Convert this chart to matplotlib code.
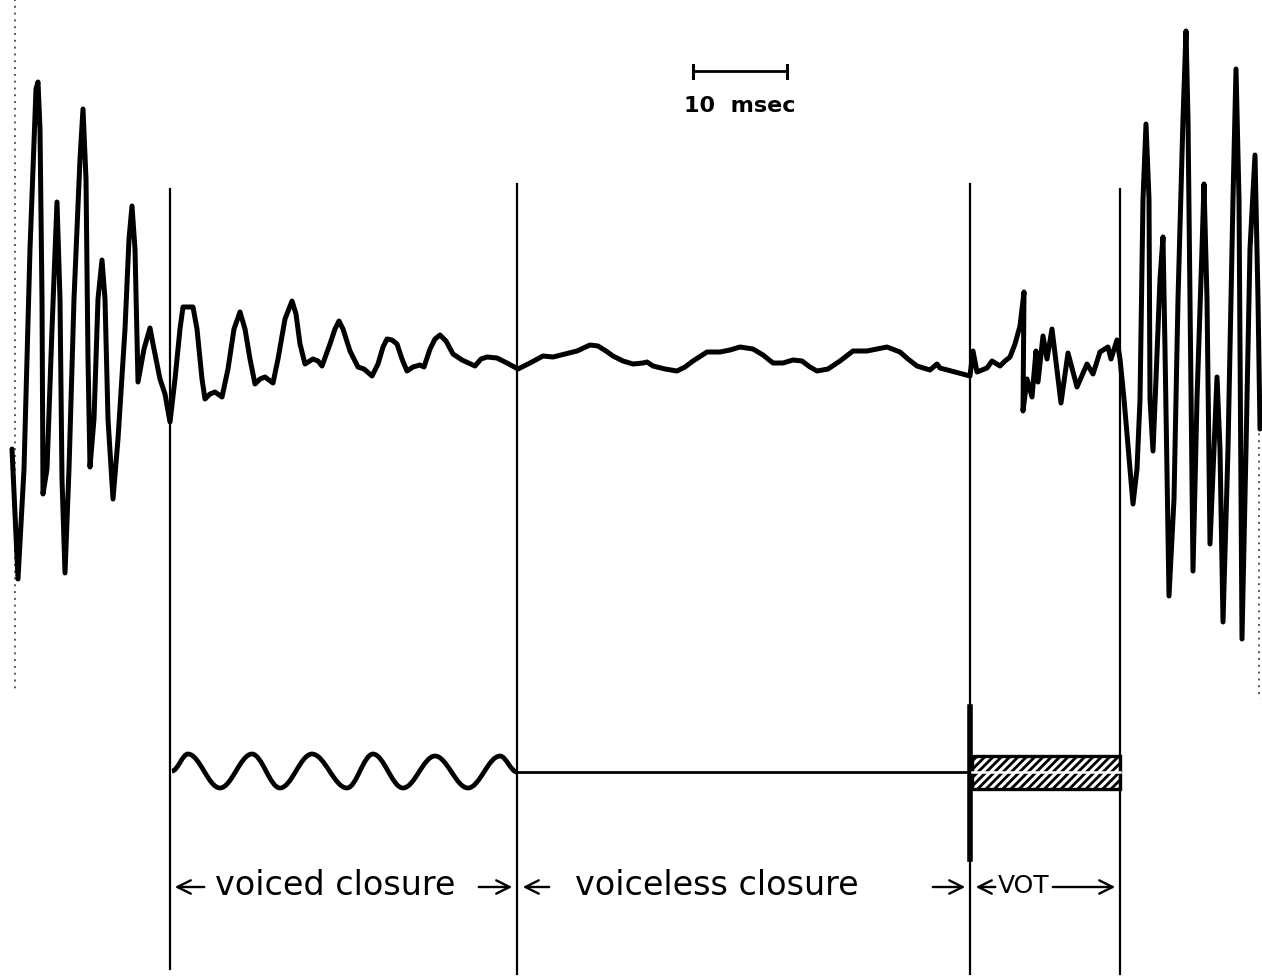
import matplotlib.pyplot as plt
from matplotlib.path import Path
from matplotlib.patches import PathPatch, Rectangle

# oscillogram trace, left burst -> closure -> right burst (x, y in page units)
wave_x = [12, 18, 24, 30, 36, 38, 40, 42, 43, 47, 52, 57, 60, 62, 65, 69, 74, 80, 83, 86,
          88, 90, 94, 98, 102, 105, 108, 113, 118, 125, 129, 132, 135, 138, 144, 150, 153,
          160, 165, 170,
          175, 180, 183, 193, 197, 202, 205, 210, 215, 222, 228, 234, 240, 245, 250, 255,
          260, 265, 273, 278, 285, 292, 296, 300, 305, 313, 318, 322, 330, 335, 339, 343,
          350, 358, 364, 372, 378, 383, 387, 392, 397, 402, 407, 413, 420, 424, 430, 435,
          440, 446, 453, 462, 475, 481, 487, 497, 507, 518,
          530, 543, 553, 565, 577, 590, 598, 606, 613, 623, 633, 643, 647, 653, 665, 677,
          685, 693, 707, 720, 730, 740, 753, 763, 773, 783, 793, 802, 810, 817, 828, 840,
          853, 867, 877, 887, 900, 908, 917, 930, 937, 940, 955, 970,
          973, 977, 987, 992, 1000, 1005, 1010, 1015, 1020, 1024, 1023, 1027, 1032, 1036,
          1038, 1043, 1047, 1052, 1056, 1061, 1068, 1077, 1087, 1093, 1100, 1108, 1111,
          1117, 1120,
          1124, 1133, 1137, 1140, 1143, 1146, 1149, 1150, 1153, 1156, 1160, 1163, 1165,
          1169, 1174, 1178, 1183, 1186, 1188, 1190, 1193, 1197, 1202, 1204, 1207, 1210,
          1214, 1217, 1220, 1223, 1228, 1233, 1236, 1239, 1242, 1246, 1250, 1255, 1258, 1260]
wave_y = [450, 580, 470, 250, 90, 83, 130, 300, 495, 470, 330, 203, 300, 480, 574, 470, 300,
          160, 110, 180, 360, 468, 420, 300, 261, 300, 420, 500, 440, 330, 240, 207, 250, 383,
          350, 329, 345, 380, 395, 423,
          380, 330, 308, 308, 330, 380, 400, 395, 393, 398, 370, 330, 313, 330, 360, 385,
          380, 378, 384, 360, 320, 302, 315, 345, 365, 360, 362, 367, 345, 330, 322, 330,
          352, 368, 370, 377, 365, 348, 340, 341, 345, 360, 372, 368, 366, 368, 350, 340,
          336, 342, 355, 361, 367, 360, 358, 359, 364, 370,
          364, 357, 358, 355, 352, 346, 347, 352, 357, 362, 365, 364, 363, 367, 370, 372,
          368, 362, 353, 353, 351, 348, 350, 356, 364, 364, 361, 362, 368, 372, 370, 362,
          352, 352, 350, 348, 353, 360, 367, 371, 365, 369, 373, 377,
          352, 373, 369, 362, 367, 362, 358, 345, 327, 293, 412, 380, 398, 352,
          383, 337, 360, 330, 363, 404, 354, 388, 365, 375, 353, 348, 360,
          341, 360,
          400, 505, 470, 401, 200, 125, 200, 400, 452, 380, 280, 238, 350,
          597, 500, 300, 120, 32, 120, 300, 572, 400, 250, 185, 300, 545,
          450, 378, 450, 623, 450, 200, 70, 200, 640, 450, 250, 156, 300, 430]

# segment boundaries
bound_x = [170, 517, 970, 1120]
bound_top = [190, 185, 185, 190]
bound_bottom = [970, 975, 975, 975]

# schematic voicing wave (extrema) under the voiced closure
voiced_x = [172, 188, 220, 252, 280, 312, 347, 373, 403, 435, 468, 500, 517]
voiced_y = [772, 755, 789, 755, 789, 755, 789, 755, 789, 757, 789, 757, 773]

labels = ['voiced closure', 'voiceless closure', 'VOT']
label_x = [335, 717, 1024]
label_size = [24, 24, 18]
scale_bar = [693, 787]
scale_text = '10  msec'


def smooth_path(xs, ys, k=0.36):
    verts = [(xs[0], ys[0])]
    codes = [Path.MOVETO]
    for i in range(len(xs) - 1):
        dx = xs[i + 1] - xs[i]
        verts += [(xs[i] + k * dx, ys[i]), (xs[i + 1] - k * dx, ys[i + 1]), (xs[i + 1], ys[i + 1])]
        codes += [Path.CURVE4] * 3
    return Path(verts, codes)


def main():
    plt.rcParams['hatch.linewidth'] = 2.0
    fig = plt.figure(figsize=(12.62, 9.79), dpi=100)
    ax = fig.add_axes([0, 0, 1, 1])
    ax.set_xlim(0, 1262)
    ax.set_ylim(979, 0)
    ax.axis('off')

    # speckled scan edges
    ax.plot([15, 15], [0, 690], color='0.35', lw=1.4, ls=(0, (1, 2.5)))
    ax.plot([1259, 1259], [380, 700], color='0.35', lw=1.4, ls=(0, (1, 2.5)))

    # waveform
    ax.plot(wave_x, wave_y, color='black', lw=3.6, solid_joinstyle='round',
            solid_capstyle='round')

    # boundary lines
    for x, t, b in zip(bound_x, bound_top, bound_bottom):
        ax.plot([x, x], [t, b], color='black', lw=1.6)
    ax.plot([970, 970], [708, 860], color='black', lw=4.0)

    # schematic: voicing, silence, aspiration
    ax.add_patch(PathPatch(smooth_path(voiced_x, voiced_y), fill=False, lw=3.4,
                           edgecolor='black'))
    ax.plot([517, 970], [773, 773], color='black', lw=2.0)
    ax.add_patch(Rectangle((972, 757), 148, 33, facecolor='white', edgecolor='black',
                           hatch='////', lw=2.4))
    ax.plot([972, 1120], [773, 773], color='white', lw=1.8)

    # scale bar
    ax.plot(scale_bar, [72, 72], color='black', lw=2.0)
    for x in scale_bar:
        ax.plot([x, x], [66, 79], color='black', lw=2.2)
    ax.text(740, 106, scale_text, ha='center', va='center',
            fontsize=16, fontweight='bold')

    # interval labels with arrows
    arrow = dict(arrowstyle='->', lw=1.7, color='black', mutation_scale=24)
    spans = [(172, 207, 476, 515), (520, 552, 930, 968), (973, 998, 1050, 1118)]
    for text, lx, fs, (a0, a1, b0, b1) in zip(labels, label_x, label_size, spans):
        ax.annotate('', xy=(a0, 888), xytext=(a1, 888), arrowprops=arrow)
        ax.annotate('', xy=(b1, 888), xytext=(b0, 888), arrowprops=arrow)
        ax.text(lx, 886, text, ha='center', va='center', fontsize=fs)

    fig.savefig('out.png', dpi=100)


if __name__ == '__main__':
    main()
